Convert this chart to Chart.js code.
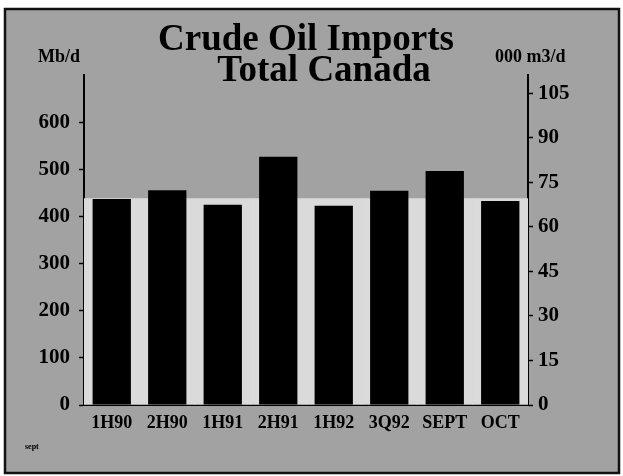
<!DOCTYPE html>
<html>
<head>
<meta charset="utf-8">
<script src="https://cdn.jsdelivr.net/npm/chart.js@4"></script>
<style>
  html, body { margin: 0; padding: 0; background: #fff; }
  #wrap { width: 623px; height: 476px; position: relative; }
</style>
</head>
<body>
<div id="wrap"><canvas id="importsChart" width="623" height="476"></canvas></div>
<script>
// ===== DATA =====
const periods = ['1H90', '2H90', '1H91', '2H91', '1H92', '3Q92', 'SEPT', 'OCT'];
const importsMbd = [438, 457, 426, 528, 424, 456, 498, 434];
// light halftone band behind the bars
const bandMbd = [439, 439, 439, 439, 439, 439, 439, 439];
const leftTicks = [0, 100, 200, 300, 400, 500, 600];
const rightTicks = [0, 15, 30, 45, 60, 75, 90, 105];

const SERIF = '"Liberation Serif", "DejaVu Serif", serif';

// frame, background and loose texts
const framePlugin = {
  id: 'frame',
  beforeDraw(chart) {
    const ctx = chart.ctx;
    ctx.save();
    ctx.fillStyle = '#fff';
    ctx.fillRect(0, 0, chart.width, chart.height);
    ctx.fillStyle = '#a2a2a2';
    ctx.fillRect(5, 9, 614, 464);
    ctx.lineWidth = 2.5;
    ctx.strokeStyle = '#111';
    ctx.strokeRect(5, 9, 614, 464);
    ctx.restore();
  },
  afterDraw(chart) {
    const ctx = chart.ctx;
    ctx.save();
    ctx.fillStyle = '#000';
    ctx.textBaseline = 'alphabetic';
    ctx.textAlign = 'center';
    ctx.font = 'bold 37px ' + SERIF;
    ctx.fillText('Crude Oil Imports', 306, 50);
    ctx.fillText('Total Canada', 324, 81);
    ctx.font = 'bold 18px ' + SERIF;
    ctx.textAlign = 'left';
    ctx.fillText('Mb/d', 38, 62);
    ctx.fillText('000 m3/d', 495, 62);
    ctx.font = 'bold 8px ' + SERIF;
    ctx.fillText('sept', 25, 449);
    ctx.restore();
  }
};

const ctx = document.getElementById('importsChart');
new Chart(ctx.getContext('2d'), {
  type: 'bar',
  data: {
    labels: periods,
    datasets: [
      {
        label: 'Imports',
        data: importsMbd,
        backgroundColor: '#000',
        barPercentage: 0.69,
        categoryPercentage: 1,
        grouped: false,
        order: 1,
        yAxisID: 'y'
      },
      {
        label: 'Band',
        data: bandMbd,
        backgroundColor: '#dadada',
        barPercentage: 1,
        categoryPercentage: 1,
        grouped: false,
        order: 2,
        yAxisID: 'y'
      }
    ]
  },
  options: {
    responsive: false,
    animation: false,
    layout: { padding: { top: 75, left: 0, right: 0, bottom: 0 } },
    plugins: {
      legend: { display: false },
      title: { display: false },
      tooltip: { enabled: false }
    },
    scales: {
      x: {
        grid: { display: false, drawTicks: false },
        border: { display: true, color: '#000', width: 2 },
        ticks: { color: '#000', padding: 8, maxRotation: 0, autoSkip: false, font: { family: SERIF, size: 18, weight: 'bold' } },
        afterFit(scale) { scale.height = 71; }
      },
      y: {
        position: 'left',
        min: 0,
        max: 702,
        afterBuildTicks(scale) { scale.ticks = leftTicks.map(v => ({ value: v })); },
        grid: { drawOnChartArea: false, drawTicks: true, tickLength: 5, tickColor: '#000', tickWidth: 1.5 },
        border: { display: true, color: '#000', width: 2 },
        ticks: { color: '#000', padding: 9, font: { family: SERIF, size: 21, weight: 'bold' } },
        afterFit(scale) { scale.width = 84; }
      },
      y2: {
        position: 'right',
        min: 0,
        max: 111.1,
        afterBuildTicks(scale) { scale.ticks = rightTicks.map(v => ({ value: v })); },
        grid: { drawOnChartArea: false, drawTicks: true, tickLength: 5, tickColor: '#000', tickWidth: 1.5 },
        border: { display: true, color: '#000', width: 2 },
        ticks: { color: '#000', padding: 5, font: { family: SERIF, size: 21, weight: 'bold' } },
        afterFit(scale) { scale.width = 95; }
      }
    }
  },
  plugins: [framePlugin]
});
</script>
</body>
</html>
